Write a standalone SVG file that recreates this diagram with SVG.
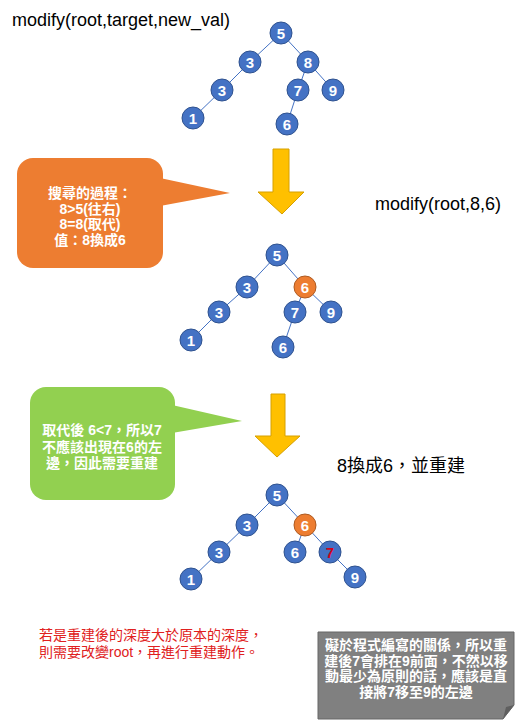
<svg xmlns="http://www.w3.org/2000/svg" width="520" height="720" viewBox="0 0 520 720">
<style>
.bg{fill:#ffffff}
.e{stroke:#4472C4;stroke-width:1}
.n circle{fill:#4472C4;stroke:#2F528F;stroke-width:1}
.n.o circle{fill:#ED7D31;stroke:#AE5A21}
.n text{font-family:"Liberation Sans","Noto Sans",sans-serif;font-weight:bold;font-size:15px;fill:#ffffff;text-anchor:middle}
.lbl{font-family:"Liberation Sans","Noto Sans CJK TC",sans-serif;font-size:18px;fill:#000000}
.ct{font-family:"Liberation Sans","Noto Sans CJK TC",sans-serif;font-size:14px;font-weight:bold;fill:#ffffff;text-anchor:middle}
.red{font-family:"Liberation Sans","Noto Sans CJK TC",sans-serif;font-size:14px;fill:#E02020}
.arrow{fill:#FFC000;stroke:#D6A000;stroke-width:1}
</style>
<rect class="bg" x="0" y="0" width="520" height="720"/>

<text class="lbl" x="12" y="26">modify(root,target,new_val)</text>
<text class="lbl" x="375" y="210">modify(root,8,6)</text>
<text class="lbl" x="337" y="472">8換成6，並重建</text>

<g id="connectors">
  <line class="e" x1="281" y1="33" x2="250" y2="62"/>
  <line class="e" x1="281" y1="33" x2="308" y2="62"/>
  <line class="e" x1="250" y1="62" x2="222" y2="90"/>
  <line class="e" x1="222" y1="90" x2="193" y2="118"/>
  <line class="e" x1="308" y1="62" x2="298" y2="90"/>
  <line class="e" x1="308" y1="62" x2="333" y2="90"/>
  <line class="e" x1="298" y1="90" x2="287" y2="124"/>

  <line class="e" x1="277" y1="255" x2="247" y2="287"/>
  <line class="e" x1="277" y1="255" x2="305" y2="287"/>
  <line class="e" x1="247" y1="287" x2="219" y2="312"/>
  <line class="e" x1="219" y1="312" x2="191" y2="340"/>
  <line class="e" x1="305" y1="287" x2="295" y2="312"/>
  <line class="e" x1="305" y1="287" x2="331" y2="312"/>
  <line class="e" x1="295" y1="312" x2="283" y2="347"/>

  <line class="e" x1="277" y1="495" x2="247" y2="525"/>
  <line class="e" x1="277" y1="495" x2="305" y2="525"/>
  <line class="e" x1="247" y1="525" x2="219" y2="552"/>
  <line class="e" x1="219" y1="552" x2="191" y2="579"/>
  <line class="e" x1="305" y1="525" x2="295" y2="552"/>
  <line class="e" x1="305" y1="525" x2="330" y2="552"/>
  <line class="e" x1="330" y1="552" x2="355" y2="577"/>
</g>

<g id="tree1">
  <g id="t1n5" class="n"><circle cx="281" cy="33" r="11"/><text x="281" y="38.5">5</text></g>
  <g id="t1n3a" class="n"><circle cx="250" cy="62" r="11"/><text x="250" y="67.5">3</text></g>
  <g id="t1n8" class="n"><circle cx="308" cy="62" r="11"/><text x="308" y="67.5">8</text></g>
  <g id="t1n3b" class="n"><circle cx="222" cy="90" r="11"/><text x="222" y="95.5">3</text></g>
  <g id="t1n7" class="n"><circle cx="298" cy="90" r="11"/><text x="298" y="95.5">7</text></g>
  <g id="t1n9" class="n"><circle cx="333" cy="90" r="11"/><text x="333" y="95.5">9</text></g>
  <g id="t1n1" class="n"><circle cx="193" cy="118" r="11"/><text x="193" y="123.5">1</text></g>
  <g id="t1n6" class="n"><circle cx="287" cy="124" r="11"/><text x="287" y="129.5">6</text></g>
</g>

<g id="tree2">
  <g id="t2n5" class="n"><circle cx="277" cy="255" r="11"/><text x="277" y="260.5">5</text></g>
  <g id="t2n3a" class="n"><circle cx="247" cy="287" r="11"/><text x="247" y="292.5">3</text></g>
  <g id="t2n6o" class="n o"><circle cx="305" cy="287" r="11"/><text x="305" y="292.5">6</text></g>
  <g id="t2n3b" class="n"><circle cx="219" cy="312" r="11"/><text x="219" y="317.5">3</text></g>
  <g id="t2n7" class="n"><circle cx="295" cy="312" r="11"/><text x="295" y="317.5">7</text></g>
  <g id="t2n9" class="n"><circle cx="331" cy="312" r="11"/><text x="331" y="317.5">9</text></g>
  <g id="t2n1" class="n"><circle cx="191" cy="340" r="11"/><text x="191" y="345.5">1</text></g>
  <g id="t2n6" class="n"><circle cx="283" cy="347" r="11"/><text x="283" y="352.5">6</text></g>
</g>

<g id="tree3">
  <g id="t3n5" class="n"><circle cx="277" cy="495" r="11"/><text x="277" y="500.5">5</text></g>
  <g id="t3n3a" class="n"><circle cx="247" cy="525" r="11"/><text x="247" y="530.5">3</text></g>
  <g id="t3n6o" class="n o"><circle cx="305" cy="525" r="11"/><text x="305" y="530.5">6</text></g>
  <g id="t3n3b" class="n"><circle cx="219" cy="552" r="11"/><text x="219" y="557.5">3</text></g>
  <g id="t3n6" class="n"><circle cx="295" cy="552" r="11"/><text x="295" y="557.5">6</text></g>
  <g id="t3n7" class="n"><circle cx="330" cy="552" r="11"/><text x="330" y="557.5" style="fill:#D0021B">7</text></g>
  <g id="t3n9" class="n"><circle cx="355" cy="577" r="11"/><text x="355" y="582.5">9</text></g>
  <g id="t3n1" class="n"><circle cx="191" cy="579" r="11"/><text x="191" y="584.5">1</text></g>
</g>

<g id="arrow1"><path class="arrow" d="M273,149 H289 V192 H304 L282,214 L258,192 H273 Z"/></g>
<g id="arrow2"><path class="arrow" d="M271,394 H285 V436 H300 L277,457 L255,436 H271 Z"/></g>

<g id="callout1">
  <rect x="17" y="158" width="146" height="110" rx="16" fill="#ED7D31"/>
  <polygon points="160,178 230,193 160,206" fill="#ED7D31"/>
  <text class="ct" x="90" y="198">搜尋的過程：</text>
  <text class="ct" x="90" y="214">8&gt;5(往右)</text>
  <text class="ct" x="90" y="229">8=8(取代)</text>
  <text class="ct" x="90" y="245">值：8換成6</text>
</g>

<g id="callout2">
  <rect x="30" y="387" width="145" height="113" rx="16" fill="#92D050"/>
  <polygon points="172,405 242,421 172,433" fill="#92D050"/>
  <text class="ct" x="102" y="435">取代後 6&lt;7，所以7</text>
  <text class="ct" x="102" y="452">不應該出現在6的左</text>
  <text class="ct" x="102" y="468">邊，因此需要重建</text>
</g>

<g id="note-red">
  <text class="red" x="39" y="640">若是重建後的深度大於原本的深度，</text>
  <text class="red" x="39" y="657">則需要改變root，再進行重建動作。</text>
</g>

<g id="note-gray">
  <path d="M318,632 H514 V705 L503,719 H318 Z" fill="#808080" stroke="#666666" stroke-width="1"/>
  <path d="M503,719 L506,707 L514,705 Z" fill="#5f5f5f"/>
  <text class="ct" x="416" y="650">礙於程式編寫的關係，所以重</text>
  <text class="ct" x="416" y="665.5">建後7會排在9前面，不然以移</text>
  <text class="ct" x="416" y="681">動最少為原則的話，應該是直</text>
  <text class="ct" x="416" y="697">接將7移至9的左邊</text>
</g>
</svg>
